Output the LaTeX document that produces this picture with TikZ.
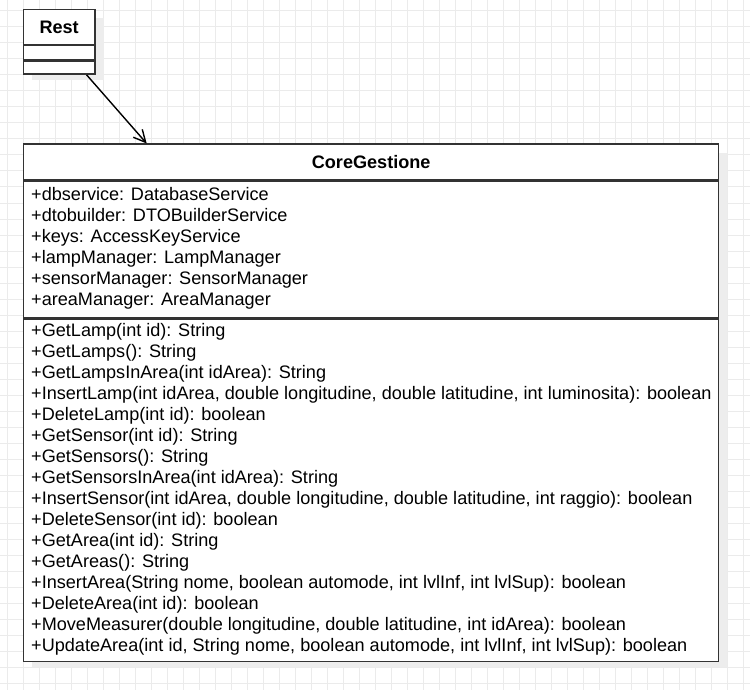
\documentclass[tikz,border=0pt]{standalone}
\usepackage{fontspec}
\setmainfont{Liberation Sans}
\usepackage{tikz}
\usetikzlibrary{arrows.meta, positioning}
\tikzstyle{gridline} = [draw=black!8, line width=1pt]
\tikzstyle{classbox} = [rectangle, draw=black!80, fill=white, line width=1.4pt, inner sep=0pt, anchor=north west]
\tikzstyle{classname} = [font=\fontsize{18.1}{21}\selectfont\bfseries]
\tikzstyle{members} = [align=left, inner sep=0pt, anchor=west, font=\fontsize{18.1}{21}\selectfont]
\tikzstyle{shadowbox} = [fill=black!7]
\tikzstyle{arrow} = [line width=1.4pt, -{Straight Barb[length=12pt, width=12pt]}]

\begin{document}
\begin{tikzpicture}[x=1pt, y=-1pt]

   \useasboundingbox (0,0) rectangle (750,690);
   \fill[white] (0,0) rectangle (750,690);
   \foreach \gx in {7,23,...,743} \draw[gridline] (\gx,0) -- (\gx,690);
   \foreach \gy in {11,27,...,683} \draw[gridline] (0,\gy) -- (750,\gy);

   % Rest
   \fill[shadowbox] (32,18) rectangle (104,80);
   \node (restHead) [classbox, classname, minimum width=71.5pt, minimum height=34.7pt] at (22.7,9) {Rest};
   \node (restAttr) [classbox, minimum width=71.5pt, minimum height=14.3pt] at (restHead.south west) {};
   \node (restOps) [classbox, minimum width=71.5pt, minimum height=12.7pt] at (restAttr.south west) {};

   % CoreGestione
   \fill[shadowbox] (32,153) rectangle (727,667);
   \node (coreHead) [classbox, classname, minimum width=695pt, minimum height=35.5pt] at (23,143.5) {CoreGestione};
   \node (coreAttr) [classbox, minimum width=695pt, minimum height=136.5pt] at (coreHead.south west) {};
   \node (coreOps) [classbox, minimum width=695pt, minimum height=342.5pt] at (coreAttr.south west) {};

   \node (attrList) [members] at ([xshift=8pt, yshift=1.5pt]coreAttr.west) {+dbservice: DatabaseService\\
      +dtobuilder: DTOBuilderService\\
      +keys: AccessKeyService\\
      +lampManager: LampManager\\
      +sensorManager: SensorManager\\
      +areaManager: AreaManager};

   \node (opsList) [members] at ([xshift=8pt, yshift=1pt]coreOps.west) {+GetLamp(int id): String\\
      +GetLamps(): String\\
      +GetLampsInArea(int idArea): String\\
      +InsertLamp(int idArea, double longitudine, double latitudine, int luminosita): boolean\\
      +DeleteLamp(int id): boolean\\
      +GetSensor(int id): String\\
      +GetSensors(): String\\
      +GetSensorsInArea(int idArea): String\\
      +InsertSensor(int idArea, double longitudine, double latitudine, int raggio): boolean\\
      +DeleteSensor(int id): boolean\\
      +GetArea(int id): String\\
      +GetAreas(): String\\
      +InsertArea(String nome, boolean automode, int lvlInf, int lvlSup): boolean\\
      +DeleteArea(int id): boolean\\
      +MoveMeasurer(double longitudine, double latitudine, int idArea): boolean\\
      +UpdateArea(int id, String nome, boolean automode, int lvlInf, int lvlSup): boolean};

   \draw [arrow] ([xshift=27.5pt]restOps.south) -- ([xshift=-224.5pt]coreHead.north);
\end{tikzpicture}
\end{document}
